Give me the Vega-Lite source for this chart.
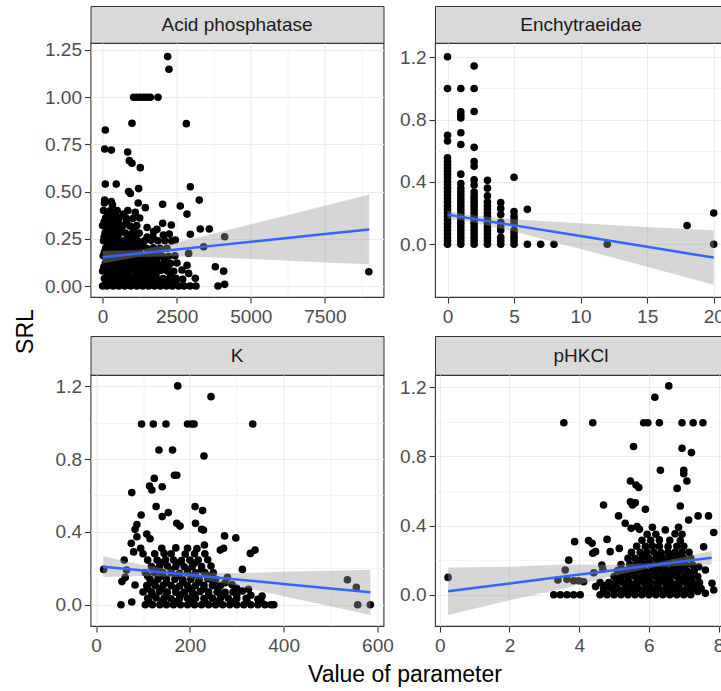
{
"$schema":"https://vega.github.io/schema/vega-lite/v6.json",
"padding":{"left":0,"top":5,"right":0,"bottom":0},
"background":"white",
"config":{
 "font":"Liberation Sans",
 "view":{"stroke":"#333333","strokeWidth":1.1,"fill":"white"},
 "axis":{"domain":false,"labelFont":"Liberation Sans","labelFontSize":19,"labelColor":"#4D4D4D","tickColor":"#333333","tickSize":6,"tickWidth":1.1,"gridColor":"#EBEBEB","labelFlush":false,"labelOverlap":false},
 "axisX":{"labelPadding":4,"minExtent":30,"maxExtent":30},
 "axisY":{"labelPadding":3},
 "text":{"font":"Liberation Sans"}
},
"datasets":{
 "acid_pts":[
  {"x":2194,"y":1.215},{"x":2239,"y":1.148},{"x":1046,"y":1.0},{"x":1159,"y":1.0},{"x":1271,"y":1.0},{"x":1384,"y":1.0},{"x":1496,"y":1.0},{"x":1609,"y":1.0},{"x":1868,"y":1.0},
  {"x":990,"y":0.862},{"x":2824,"y":0.86},{"x":90,"y":0.826},{"x":68,"y":0.726},{"x":293,"y":0.72},{"x":844,"y":0.71},{"x":900,"y":0.664},{"x":990,"y":0.65},{"x":1271,"y":0.627},
  {"x":90,"y":0.54},{"x":461,"y":0.54},{"x":877,"y":0.5},{"x":934,"y":0.49},{"x":1215,"y":0.516},{"x":2959,"y":0.526},{"x":3262,"y":0.455},{"x":68,"y":0.455},{"x":293,"y":0.447},
  {"x":1440,"y":0.415},{"x":2025,"y":0.433},{"x":2621,"y":0.424},{"x":2846,"y":0.381},{"x":3296,"y":0.302},{"x":3600,"y":0.302},{"x":4118,"y":0.261},{"x":2959,"y":0.274},
  {"x":3803,"y":0.102},{"x":4084,"y":0.079},{"x":3893,"y":0},{"x":4118,"y":0.009},{"x":3409,"y":0.208},{"x":8985,"y":0.076},
  {"x":2025,"y":0.332},{"x":1834,"y":0.3},{"x":1721,"y":0.288},{"x":2318,"y":0.323},{"x":2453,"y":0.244},{"x":2903,"y":0.173},{"x":2678,"y":0.085},{"x":2903,"y":0.067},{"x":3128,"y":0.041},{"x":2565,"y":0},
  {"x":0,"y":0},{"x":150,"y":0},{"x":350,"y":0},{"x":550,"y":0},{"x":750,"y":0},{"x":950,"y":0},{"x":1150,"y":0},{"x":1350,"y":0},{"x":1550,"y":0},{"x":1750,"y":0},{"x":1950,"y":0},{"x":2150,"y":0},{"x":2350,"y":0},{"x":2750,"y":0},{"x":2950,"y":0},{"x":3150,"y":0},
  {"x":60,"y":0.04},{"x":280,"y":0.042},{"x":500,"y":0.04},{"x":720,"y":0.038},{"x":940,"y":0.04},{"x":1160,"y":0.042},{"x":1380,"y":0.04},{"x":1600,"y":0.04},{"x":1820,"y":0.038},{"x":2040,"y":0.04},{"x":2260,"y":0.042},{"x":2480,"y":0.04},{"x":2700,"y":0.036},
  {"x":0,"y":0.08},{"x":200,"y":0.082},{"x":420,"y":0.08},{"x":640,"y":0.078},{"x":860,"y":0.08},{"x":1080,"y":0.083},{"x":1300,"y":0.08},{"x":1520,"y":0.079},{"x":1740,"y":0.08},{"x":1960,"y":0.082},{"x":2180,"y":0.08},{"x":2400,"y":0.078},{"x":2850,"y":0.11},
  {"x":90,"y":0.12},{"x":310,"y":0.12},{"x":530,"y":0.122},{"x":750,"y":0.12},{"x":970,"y":0.118},{"x":1190,"y":0.12},{"x":1410,"y":0.121},{"x":1630,"y":0.12},{"x":1850,"y":0.12},{"x":2070,"y":0.118},{"x":2290,"y":0.12},{"x":2510,"y":0.122},
  {"x":20,"y":0.16},{"x":240,"y":0.16},{"x":460,"y":0.162},{"x":680,"y":0.16},{"x":900,"y":0.158},{"x":1120,"y":0.16},{"x":1340,"y":0.16},{"x":1560,"y":0.162},{"x":1780,"y":0.16},{"x":2000,"y":0.16},{"x":2220,"y":0.158},{"x":2440,"y":0.16},
  {"x":100,"y":0.2},{"x":330,"y":0.2},{"x":560,"y":0.202},{"x":790,"y":0.2},{"x":1020,"y":0.198},{"x":1250,"y":0.2},{"x":1480,"y":0.2},{"x":1710,"y":0.202},{"x":1940,"y":0.2},{"x":2170,"y":0.2},
  {"x":30,"y":0.24},{"x":260,"y":0.24},{"x":490,"y":0.242},{"x":720,"y":0.24},{"x":950,"y":0.238},{"x":1180,"y":0.24},{"x":1410,"y":0.24},{"x":1640,"y":0.242},{"x":1870,"y":0.24},{"x":2100,"y":0.24},{"x":2330,"y":0.238},
  {"x":80,"y":0.28},{"x":310,"y":0.28},{"x":540,"y":0.282},{"x":770,"y":0.28},{"x":1000,"y":0.278},{"x":1230,"y":0.28},{"x":1700,"y":0.26},{"x":2050,"y":0.27},{"x":2250,"y":0.275},
  {"x":0,"y":0.32},{"x":230,"y":0.32},{"x":460,"y":0.322},{"x":690,"y":0.32},{"x":920,"y":0.318},{"x":1150,"y":0.32},{"x":1500,"y":0.31},
  {"x":100,"y":0.36},{"x":330,"y":0.36},{"x":560,"y":0.362},{"x":790,"y":0.36},{"x":1020,"y":0.358},{"x":1250,"y":0.36},
  {"x":30,"y":0.4},{"x":260,"y":0.4},{"x":490,"y":0.4},{"x":850,"y":0.4},{"x":1100,"y":0.39},
  {"x":60,"y":0.44},{"x":330,"y":0.43},{"x":1200,"y":0.44},
  {"x":110,"y":0.02},{"x":330,"y":0.021},{"x":560,"y":0.019},{"x":800,"y":0.02},{"x":1040,"y":0.022},{"x":1270,"y":0.02},{"x":1500,"y":0.018},{"x":1740,"y":0.02},{"x":1980,"y":0.021},{"x":2220,"y":0.02},{"x":2460,"y":0.019},
  {"x":170,"y":0.06},{"x":400,"y":0.061},{"x":620,"y":0.06},{"x":850,"y":0.059},{"x":1090,"y":0.06},{"x":1330,"y":0.062},{"x":1560,"y":0.06},{"x":1800,"y":0.06},{"x":2300,"y":0.058},
  {"x":40,"y":0.1},{"x":260,"y":0.1},{"x":500,"y":0.102},{"x":740,"y":0.1},{"x":980,"y":0.098},{"x":1220,"y":0.1},{"x":1460,"y":0.1},{"x":1700,"y":0.101},{"x":1950,"y":0.1},{"x":2200,"y":0.099},
  {"x":140,"y":0.14},{"x":380,"y":0.14},{"x":620,"y":0.141},{"x":860,"y":0.14},{"x":1100,"y":0.139},{"x":1340,"y":0.14},{"x":1580,"y":0.14},{"x":1820,"y":0.142},{"x":2080,"y":0.14},
  {"x":60,"y":0.18},{"x":290,"y":0.18},{"x":520,"y":0.181},{"x":760,"y":0.18},{"x":1000,"y":0.179},{"x":1240,"y":0.18},{"x":1600,"y":0.18},{"x":1900,"y":0.18},
  {"x":170,"y":0.22},{"x":400,"y":0.22},{"x":640,"y":0.221},{"x":880,"y":0.22},{"x":1120,"y":0.219},{"x":1350,"y":0.22},
  {"x":50,"y":0.26},{"x":280,"y":0.26},{"x":520,"y":0.261},{"x":880,"y":0.26},{"x":1100,"y":0.259},{"x":1500,"y":0.26},
  {"x":150,"y":0.3},{"x":380,"y":0.3},{"x":620,"y":0.301},{"x":1050,"y":0.3},
  {"x":50,"y":0.34},{"x":280,"y":0.34},{"x":520,"y":0.341},{"x":800,"y":0.34},
  {"x":180,"y":0.38},{"x":420,"y":0.38},{"x":700,"y":0.381}
 ],
 "acid_fit":[
  {"x":0,"fit":0.153,"lo":0.12,"hi":0.187},{"x":1200,"fit":0.172,"lo":0.154,"hi":0.19},{"x":2500,"fit":0.194,"lo":0.158,"hi":0.23},{"x":4000,"fit":0.218,"lo":0.15,"hi":0.287},{"x":6000,"fit":0.251,"lo":0.136,"hi":0.366},{"x":7500,"fit":0.275,"lo":0.125,"hi":0.425},{"x":9000,"fit":0.3,"lo":0.115,"hi":0.485}
 ],
 "ench_pts":[
  {"x":0,"y":0},{"x":0,"y":0.045},{"x":0,"y":0.09},{"x":0,"y":0.135},{"x":0,"y":0.18},{"x":0,"y":0.225},{"x":0,"y":0.27},{"x":0,"y":0.315},{"x":0,"y":0.36},{"x":0,"y":0.405},{"x":0,"y":0.45},{"x":0,"y":0.49},{"x":0,"y":0.53},{"x":0,"y":0.555},{"x":0,"y":0.663},{"x":0,"y":0.7},{"x":0,"y":1.0},{"x":0,"y":1.204},
  {"x":0,"y":0.022},{"x":0,"y":0.067},{"x":0,"y":0.112},{"x":0,"y":0.157},{"x":0,"y":0.202},{"x":0,"y":0.247},{"x":0,"y":0.292},{"x":0,"y":0.337},{"x":0,"y":0.382},{"x":0,"y":0.427},{"x":0,"y":0.47},{"x":0,"y":0.51},
  {"x":1,"y":0},{"x":1,"y":0.045},{"x":1,"y":0.09},{"x":1,"y":0.135},{"x":1,"y":0.18},{"x":1,"y":0.225},{"x":1,"y":0.27},{"x":1,"y":0.315},{"x":1,"y":0.36},{"x":1,"y":0.39},{"x":1,"y":0.45},{"x":1,"y":0.64},{"x":1,"y":0.716},{"x":1,"y":0.81},{"x":1,"y":0.83},{"x":1,"y":0.85},{"x":1,"y":1.0},
  {"x":1,"y":0.022},{"x":1,"y":0.067},{"x":1,"y":0.112},{"x":1,"y":0.157},{"x":1,"y":0.202},{"x":1,"y":0.247},{"x":1,"y":0.292},{"x":1,"y":0.337},
  {"x":2,"y":0},{"x":2,"y":0.045},{"x":2,"y":0.09},{"x":2,"y":0.135},{"x":2,"y":0.18},{"x":2,"y":0.225},{"x":2,"y":0.27},{"x":2,"y":0.31},{"x":2,"y":0.335},{"x":2,"y":0.38},{"x":2,"y":0.413},{"x":2,"y":0.5},{"x":2,"y":0.53},{"x":2,"y":0.622},{"x":2,"y":0.852},{"x":2,"y":1.0},{"x":2,"y":1.144},
  {"x":2,"y":0.022},{"x":2,"y":0.067},{"x":2,"y":0.112},{"x":2,"y":0.157},{"x":2,"y":0.202},{"x":2,"y":0.247},{"x":2,"y":0.29},
  {"x":3,"y":0},{"x":3,"y":0.045},{"x":3,"y":0.09},{"x":3,"y":0.135},{"x":3,"y":0.18},{"x":3,"y":0.225},{"x":3,"y":0.27},{"x":3,"y":0.31},{"x":3,"y":0.36},{"x":3,"y":0.41},
  {"x":3,"y":0.022},{"x":3,"y":0.067},{"x":3,"y":0.112},{"x":3,"y":0.157},{"x":3,"y":0.202},{"x":3,"y":0.247},
  {"x":4,"y":0},{"x":4,"y":0.045},{"x":4,"y":0.09},{"x":4,"y":0.14},{"x":4,"y":0.19},{"x":4,"y":0.23},{"x":4,"y":0.268},{"x":4,"y":0.022},{"x":4,"y":0.112},
  {"x":5,"y":0},{"x":5,"y":0.045},{"x":5,"y":0.09},{"x":5,"y":0.135},{"x":5,"y":0.18},{"x":5,"y":0.21},{"x":5,"y":0.43},{"x":5,"y":0.022},{"x":5,"y":0.067},{"x":5,"y":0.157},
  {"x":6,"y":0},{"x":6,"y":0.224},{"x":7,"y":0},{"x":8,"y":0},{"x":12,"y":0},{"x":18,"y":0.12},{"x":20,"y":0.2},{"x":20,"y":0}
 ],
 "ench_fit":[
  {"x":0,"fit":0.19,"lo":0.165,"hi":0.215},{"x":1.5,"fit":0.169,"lo":0.149,"hi":0.189},{"x":5,"fit":0.121,"lo":0.082,"hi":0.16},{"x":10,"fit":0.052,"lo":-0.03,"hi":0.134},{"x":15,"fit":-0.017,"lo":-0.145,"hi":0.111},{"x":20,"fit":-0.086,"lo":-0.261,"hi":0.089}
 ],
 "k_pts":[
  {"x":174,"y":1.202},{"x":245,"y":1.143},{"x":97,"y":0.993},{"x":122,"y":0.993},{"x":149,"y":0.993},{"x":195,"y":0.993},{"x":204,"y":0.993},{"x":209,"y":0.993},{"x":334,"y":0.993},
  {"x":134,"y":0.85},{"x":163,"y":0.85},{"x":230,"y":0.817},{"x":167,"y":0.711},{"x":172,"y":0.711},{"x":124,"y":0.694},{"x":114,"y":0.652},{"x":119,"y":0.63},{"x":141,"y":0.648},{"x":76,"y":0.616},
  {"x":128,"y":0.539},{"x":96,"y":0.493},{"x":141,"y":0.484},{"x":154,"y":0.506},{"x":211,"y":0.539},{"x":227,"y":0.517},{"x":172,"y":0.447},{"x":179,"y":0.432},{"x":212,"y":0.447},{"x":225,"y":0.414},{"x":229,"y":0.41},
  {"x":87,"y":0.44},{"x":83,"y":0.414},{"x":87,"y":0.373},{"x":108,"y":0.388},{"x":115,"y":0.362},{"x":274,"y":0.378},{"x":298,"y":0.367},{"x":231,"y":0.328},{"x":265,"y":0.3},{"x":272,"y":0.31},{"x":329,"y":0.282},{"x":339,"y":0.3},
  {"x":312,"y":0.194},{"x":16,"y":0.194},{"x":55,"y":0.127},{"x":62,"y":0.15},{"x":53,"y":0},{"x":76,"y":0.015},{"x":354,"y":0.048},{"x":373,"y":0},{"x":379,"y":0},
  {"x":536,"y":0.137},{"x":555,"y":0.095},{"x":558,"y":0},{"x":585,"y":0},{"x":60,"y":0.245},{"x":65,"y":0.19},{"x":80,"y":0.29},{"x":75,"y":0.337},{"x":83,"y":0.108},
  {"x":105,"y":0},{"x":120,"y":0},{"x":136,"y":0},{"x":150,"y":0},{"x":165,"y":0},{"x":180,"y":0},{"x":195,"y":0},{"x":210,"y":0},{"x":225,"y":0},{"x":240,"y":0},{"x":255,"y":0},{"x":270,"y":0},{"x":285,"y":0},{"x":300,"y":0},{"x":315,"y":0},{"x":330,"y":0},{"x":345,"y":0},{"x":360,"y":0},
  {"x":110,"y":0.035},{"x":128,"y":0.037},{"x":145,"y":0.035},{"x":160,"y":0.033},{"x":178,"y":0.035},{"x":195,"y":0.036},{"x":212,"y":0.035},{"x":230,"y":0.034},{"x":248,"y":0.035},{"x":265,"y":0.036},{"x":282,"y":0.035},{"x":300,"y":0.034},{"x":320,"y":0.035},{"x":345,"y":0.03},
  {"x":100,"y":0.07},{"x":118,"y":0.07},{"x":135,"y":0.072},{"x":152,"y":0.07},{"x":170,"y":0.068},{"x":188,"y":0.07},{"x":205,"y":0.07},{"x":222,"y":0.072},{"x":240,"y":0.07},{"x":258,"y":0.07},{"x":275,"y":0.068},{"x":292,"y":0.07},{"x":312,"y":0.075},
  {"x":108,"y":0.105},{"x":126,"y":0.105},{"x":143,"y":0.107},{"x":160,"y":0.105},{"x":178,"y":0.103},{"x":195,"y":0.105},{"x":212,"y":0.105},{"x":230,"y":0.107},{"x":248,"y":0.105},{"x":265,"y":0.105},{"x":290,"y":0.11},
  {"x":115,"y":0.14},{"x":132,"y":0.14},{"x":150,"y":0.142},{"x":168,"y":0.14},{"x":185,"y":0.138},{"x":202,"y":0.14},{"x":220,"y":0.14},{"x":238,"y":0.142},{"x":255,"y":0.14},{"x":280,"y":0.15},
  {"x":105,"y":0.175},{"x":125,"y":0.175},{"x":142,"y":0.177},{"x":160,"y":0.175},{"x":178,"y":0.173},{"x":195,"y":0.175},{"x":212,"y":0.175},{"x":232,"y":0.177},{"x":250,"y":0.175},
  {"x":118,"y":0.21},{"x":135,"y":0.21},{"x":152,"y":0.212},{"x":170,"y":0.21},{"x":188,"y":0.208},{"x":205,"y":0.21},{"x":225,"y":0.21},{"x":245,"y":0.212},
  {"x":110,"y":0.245},{"x":130,"y":0.245},{"x":148,"y":0.247},{"x":165,"y":0.245},{"x":182,"y":0.243},{"x":200,"y":0.245},{"x":218,"y":0.245},{"x":238,"y":0.247},
  {"x":100,"y":0.28},{"x":125,"y":0.28},{"x":145,"y":0.282},{"x":160,"y":0.28},{"x":190,"y":0.278},{"x":210,"y":0.28},{"x":232,"y":0.28},
  {"x":95,"y":0.31},{"x":140,"y":0.31},{"x":170,"y":0.312},{"x":195,"y":0.31},{"x":215,"y":0.308},
  {"x":112,"y":0.018},{"x":142,"y":0.018},{"x":172,"y":0.017},{"x":202,"y":0.018},{"x":232,"y":0.019},{"x":262,"y":0.018},{"x":292,"y":0.017},{"x":322,"y":0.018},{"x":352,"y":0.018},
  {"x":120,"y":0.053},{"x":150,"y":0.053},{"x":180,"y":0.054},{"x":210,"y":0.053},{"x":240,"y":0.052},{"x":270,"y":0.053},{"x":300,"y":0.053},{"x":330,"y":0.052},
  {"x":110,"y":0.088},{"x":140,"y":0.088},{"x":170,"y":0.089},{"x":200,"y":0.088},{"x":230,"y":0.087},{"x":260,"y":0.088},{"x":300,"y":0.09},{"x":325,"y":0.085},
  {"x":118,"y":0.123},{"x":150,"y":0.123},{"x":185,"y":0.124},{"x":218,"y":0.123},{"x":250,"y":0.122},{"x":275,"y":0.12},
  {"x":110,"y":0.158},{"x":140,"y":0.158},{"x":172,"y":0.159},{"x":205,"y":0.158},{"x":240,"y":0.157},
  {"x":128,"y":0.19},{"x":160,"y":0.19},{"x":195,"y":0.191},{"x":225,"y":0.19},
  {"x":140,"y":0.23},{"x":175,"y":0.23},{"x":210,"y":0.229}
 ],
 "k_fit":[
  {"x":15,"fit":0.209,"lo":0.152,"hi":0.266},{"x":100,"fit":0.188,"lo":0.158,"hi":0.218},{"x":190,"fit":0.166,"lo":0.151,"hi":0.181},{"x":300,"fit":0.139,"lo":0.105,"hi":0.173},{"x":400,"fit":0.114,"lo":0.047,"hi":0.181},{"x":500,"fit":0.089,"lo":-0.009,"hi":0.187},{"x":585,"fit":0.068,"lo":-0.056,"hi":0.192}
 ],
 "ph_pts":[
  {"x":6.57,"y":1.208},{"x":6.17,"y":1.142},{"x":3.56,"y":0.995},{"x":4.39,"y":0.995},{"x":5.85,"y":0.995},{"x":5.97,"y":0.995},{"x":6.3,"y":0.995},{"x":6.95,"y":0.995},{"x":7.27,"y":0.995},{"x":7.55,"y":0.995},
  {"x":5.56,"y":0.857},{"x":6.95,"y":0.847},{"x":7.22,"y":0.822},{"x":6.33,"y":0.72},{"x":7.0,"y":0.72},{"x":7.0,"y":0.7},{"x":7.09,"y":0.658},{"x":5.47,"y":0.658},{"x":5.63,"y":0.634},{"x":5.71,"y":0.62},{"x":6.81,"y":0.615},
  {"x":5.47,"y":0.538},{"x":5.53,"y":0.519},{"x":5.61,"y":0.532},{"x":4.7,"y":0.519},{"x":5.9,"y":0.494},{"x":6.9,"y":0.513},{"x":5.13,"y":0.456},{"x":7.14,"y":0.432},{"x":7.41,"y":0.456},{"x":7.71,"y":0.456},{"x":7.86,"y":0.36},
  {"x":6.47,"y":0.375},{"x":5.32,"y":0.413},{"x":5.49,"y":0.384},{"x":5.66,"y":0.394},{"x":5.73,"y":0.378},{"x":3.87,"y":0.307},{"x":4.27,"y":0.313},{"x":4.37,"y":0.297},{"x":4.47,"y":0.249},{"x":4.39,"y":0.24},{"x":4.8,"y":0.32},{"x":4.89,"y":0.249},{"x":5.15,"y":0.268},
  {"x":3.7,"y":0.2},{"x":3.6,"y":0.143},{"x":3.65,"y":0.089},{"x":3.84,"y":0.081},{"x":3.99,"y":0.081},{"x":4.13,"y":0.075},{"x":3.39,"y":0.085},{"x":3.27,"y":0},{"x":3.46,"y":0},{"x":3.65,"y":0},{"x":3.84,"y":0},{"x":4.03,"y":0},
  {"x":4.65,"y":0.172},{"x":4.68,"y":0.147},{"x":4.42,"y":0.127},{"x":4.47,"y":0.047},{"x":7.57,"y":0.277},{"x":7.62,"y":0.143},{"x":7.43,"y":0.162},{"x":7.81,"y":0.066},{"x":7.86,"y":0.027},{"x":7.62,"y":0.008},{"x":0.24,"y":0.1},
  {"x":4.6,"y":0},{"x":4.8,"y":0},{"x":5.0,"y":0},{"x":5.2,"y":0},{"x":5.4,"y":0},{"x":5.6,"y":0},{"x":5.8,"y":0},{"x":6.0,"y":0},{"x":6.2,"y":0},{"x":6.4,"y":0},{"x":6.6,"y":0},{"x":6.8,"y":0},{"x":7.0,"y":0},{"x":7.2,"y":0},
  {"x":4.7,"y":0.035},{"x":4.9,"y":0.037},{"x":5.1,"y":0.035},{"x":5.3,"y":0.033},{"x":5.5,"y":0.035},{"x":5.7,"y":0.036},{"x":5.9,"y":0.035},{"x":6.1,"y":0.034},{"x":6.3,"y":0.035},{"x":6.5,"y":0.036},{"x":6.7,"y":0.035},{"x":6.9,"y":0.034},{"x":7.1,"y":0.035},{"x":7.3,"y":0.036},{"x":7.5,"y":0.035},
  {"x":4.6,"y":0.07},{"x":4.85,"y":0.07},{"x":5.05,"y":0.072},{"x":5.25,"y":0.07},{"x":5.45,"y":0.068},{"x":5.65,"y":0.07},{"x":5.85,"y":0.07},{"x":6.05,"y":0.072},{"x":6.25,"y":0.07},{"x":6.45,"y":0.07},{"x":6.65,"y":0.068},{"x":6.85,"y":0.07},{"x":7.05,"y":0.07},{"x":7.25,"y":0.072},{"x":7.45,"y":0.07},
  {"x":5.0,"y":0.105},{"x":5.2,"y":0.105},{"x":5.4,"y":0.107},{"x":5.6,"y":0.105},{"x":5.8,"y":0.103},{"x":6.0,"y":0.105},{"x":6.2,"y":0.105},{"x":6.4,"y":0.107},{"x":6.6,"y":0.105},{"x":6.8,"y":0.105},{"x":7.0,"y":0.103},{"x":7.2,"y":0.105},{"x":7.4,"y":0.105},
  {"x":5.1,"y":0.14},{"x":5.3,"y":0.14},{"x":5.5,"y":0.142},{"x":5.7,"y":0.14},{"x":5.9,"y":0.138},{"x":6.1,"y":0.14},{"x":6.3,"y":0.14},{"x":6.5,"y":0.142},{"x":6.7,"y":0.14},{"x":6.9,"y":0.14},{"x":7.1,"y":0.138},{"x":7.3,"y":0.14},
  {"x":5.2,"y":0.175},{"x":5.45,"y":0.175},{"x":5.65,"y":0.177},{"x":5.85,"y":0.175},{"x":6.05,"y":0.173},{"x":6.25,"y":0.175},{"x":6.45,"y":0.175},{"x":6.65,"y":0.177},{"x":6.85,"y":0.175},{"x":7.05,"y":0.175},{"x":7.25,"y":0.173},
  {"x":5.4,"y":0.21},{"x":5.6,"y":0.21},{"x":5.8,"y":0.212},{"x":6.0,"y":0.21},{"x":6.2,"y":0.208},{"x":6.4,"y":0.21},{"x":6.6,"y":0.21},{"x":6.8,"y":0.212},{"x":7.0,"y":0.21},{"x":7.2,"y":0.21},
  {"x":5.5,"y":0.245},{"x":5.75,"y":0.245},{"x":5.95,"y":0.247},{"x":6.15,"y":0.245},{"x":6.35,"y":0.243},{"x":6.55,"y":0.245},{"x":6.75,"y":0.245},{"x":6.95,"y":0.247},{"x":7.15,"y":0.245},
  {"x":5.65,"y":0.28},{"x":5.9,"y":0.28},{"x":6.1,"y":0.282},{"x":6.3,"y":0.28},{"x":6.55,"y":0.278},{"x":6.8,"y":0.28},{"x":7.0,"y":0.28},
  {"x":5.8,"y":0.315},{"x":6.05,"y":0.315},{"x":6.3,"y":0.317},{"x":6.6,"y":0.315},{"x":6.9,"y":0.313},
  {"x":5.95,"y":0.35},{"x":6.2,"y":0.35},{"x":6.75,"y":0.352},{"x":6.95,"y":0.35},{"x":6.1,"y":0.39},{"x":6.85,"y":0.39},
  {"x":4.7,"y":0.018},{"x":5.0,"y":0.018},{"x":5.3,"y":0.017},{"x":5.6,"y":0.018},{"x":5.9,"y":0.019},{"x":6.2,"y":0.018},{"x":6.5,"y":0.017},{"x":6.8,"y":0.018},{"x":7.1,"y":0.018},{"x":7.4,"y":0.019},
  {"x":4.75,"y":0.053},{"x":5.05,"y":0.053},{"x":5.35,"y":0.054},{"x":5.65,"y":0.053},{"x":5.95,"y":0.052},{"x":6.25,"y":0.053},{"x":6.55,"y":0.053},{"x":6.85,"y":0.054},{"x":7.15,"y":0.053},{"x":7.4,"y":0.052},
  {"x":5.1,"y":0.088},{"x":5.4,"y":0.088},{"x":5.7,"y":0.089},{"x":6.0,"y":0.088},{"x":6.3,"y":0.087},{"x":6.6,"y":0.088},{"x":6.9,"y":0.088},{"x":7.2,"y":0.089},
  {"x":5.3,"y":0.123},{"x":5.6,"y":0.123},{"x":5.9,"y":0.124},{"x":6.2,"y":0.123},{"x":6.5,"y":0.122},{"x":6.8,"y":0.123},{"x":7.1,"y":0.123},
  {"x":5.5,"y":0.158},{"x":5.8,"y":0.158},{"x":6.1,"y":0.159},{"x":6.4,"y":0.158},{"x":6.7,"y":0.157},{"x":7.0,"y":0.158},
  {"x":5.7,"y":0.19},{"x":6.0,"y":0.19},{"x":6.3,"y":0.191},{"x":6.6,"y":0.19},{"x":6.9,"y":0.19},
  {"x":5.9,"y":0.23},{"x":6.25,"y":0.23},{"x":6.6,"y":0.229},{"x":6.9,"y":0.23}
 ],
 "ph_fit":[
  {"x":0.24,"fit":0.02,"lo":-0.117,"hi":0.157},{"x":2,"fit":0.065,"lo":-0.032,"hi":0.162},{"x":3.5,"fit":0.104,"lo":0.033,"hi":0.175},{"x":5,"fit":0.142,"lo":0.111,"hi":0.173},{"x":6.2,"fit":0.173,"lo":0.161,"hi":0.185},{"x":7.8,"fit":0.214,"lo":0.175,"hi":0.253}
 ]
},
"spacing":7,
"vconcat":[
 {"spacing":-10.5,"hconcat":[
  {"width":52,"height":651,"data":{"values":[{"t":"SRL"}]},"mark":{"type":"text","angle":270,"fontSize":23,"color":"#000000","baseline":"middle","align":"center"},"encoding":{"text":{"field":"t","type":"nominal"}},"view":{"stroke":null,"fill":null}},
  {"spacing":7,"vconcat":[
   {"bounds":"flush","spacing":0,"vconcat":[
    {"width":293,"height":37,"data":{"values":[{"label":"Acid phosphatase"}]},"mark":{"type":"text","fontSize":19,"color":"#1A1A1A"},"encoding":{"text":{"field":"label","type":"nominal"}},"view":{"fill":"#D9D9D9","stroke":"#333333"}},
    {"width":293,"height":254,"layer":[
     {"data":{"name":"acid_pts"},"mark":{"type":"circle","color":"#000000","opacity":1,"size":58},
      "encoding":{
       "x":{"field":"x","type":"quantitative","title":null,"scale":{"domain":[-410,9480],"nice":false,"zero":false},
        "axis":{"values":[0,1250,2500,3750,5000,6250,7500,8750],"format":"d","labelExpr":"indexof([0,2500,5000,7500],datum.value)>=0?datum.label:''","tickOpacity":{"condition":{"test":"indexof([0,2500,5000,7500],datum.value)>=0","value":1},"value":0},"gridWidth":{"condition":{"test":"indexof([0,2500,5000,7500],datum.value)>=0","value":1.1},"value":0.55}}},
       "y":{"field":"y","type":"quantitative","title":null,"scale":{"domain":[-0.058,1.287],"nice":false,"zero":false},
        "axis":{"minExtent":48,"maxExtent":48,"values":[0,0.125,0.25,0.375,0.5,0.625,0.75,0.875,1,1.125,1.25],"format":".2f","labelExpr":"indexof([0,0.25,0.5,0.75,1,1.25],datum.value)>=0?datum.label:''","tickOpacity":{"condition":{"test":"indexof([0,0.25,0.5,0.75,1,1.25],datum.value)>=0","value":1},"value":0},"gridWidth":{"condition":{"test":"indexof([0,0.25,0.5,0.75,1,1.25],datum.value)>=0","value":1.1},"value":0.55}}}
      }},
     {"data":{"name":"acid_fit"},"mark":{"type":"area","color":"#999999","opacity":0.4},"encoding":{"x":{"field":"x","type":"quantitative","title":null},"y":{"field":"lo","type":"quantitative","title":null},"y2":{"field":"hi"}}},
     {"data":{"name":"acid_fit"},"mark":{"type":"line","color":"#3366FF","strokeWidth":2.5},"encoding":{"x":{"field":"x","type":"quantitative","title":null},"y":{"field":"fit","type":"quantitative","title":null}}}
    ]}
   ]},
   {"bounds":"flush","spacing":0,"vconcat":[
    {"width":293,"height":39,"data":{"values":[{"label":"K"}]},"mark":{"type":"text","fontSize":19,"color":"#1A1A1A"},"encoding":{"text":{"field":"label","type":"nominal"}},"view":{"fill":"#D9D9D9","stroke":"#333333"}},
    {"width":293,"height":251,"layer":[
     {"data":{"name":"k_pts"},"mark":{"type":"circle","color":"#000000","opacity":1,"size":58},
      "encoding":{
       "x":{"field":"x","type":"quantitative","title":null,"scale":{"domain":[-12,613],"nice":false,"zero":false},
        "axis":{"values":[0,100,200,300,400,500,600],"format":"d","labelExpr":"indexof([0,200,400,600],datum.value)>=0?datum.label:''","tickOpacity":{"condition":{"test":"indexof([0,200,400,600],datum.value)>=0","value":1},"value":0},"gridWidth":{"condition":{"test":"indexof([0,200,400,600],datum.value)>=0","value":1.1},"value":0.55}}},
       "y":{"field":"y","type":"quantitative","title":null,"scale":{"domain":[-0.117,1.262],"nice":false,"zero":false},
        "axis":{"minExtent":48,"maxExtent":48,"values":[0,0.2,0.4,0.6,0.8,1,1.2],"format":".1f","labelExpr":"indexof([0,0.4,0.8,1.2],datum.value)>=0?datum.label:''","tickOpacity":{"condition":{"test":"indexof([0,0.4,0.8,1.2],datum.value)>=0","value":1},"value":0},"gridWidth":{"condition":{"test":"indexof([0,0.4,0.8,1.2],datum.value)>=0","value":1.1},"value":0.55}}}
      }},
     {"data":{"name":"k_fit"},"mark":{"type":"area","color":"#999999","opacity":0.4},"encoding":{"x":{"field":"x","type":"quantitative","title":null},"y":{"field":"lo","type":"quantitative","title":null},"y2":{"field":"hi"}}},
     {"data":{"name":"k_fit"},"mark":{"type":"line","color":"#3366FF","strokeWidth":2.5},"encoding":{"x":{"field":"x","type":"quantitative","title":null},"y":{"field":"fit","type":"quantitative","title":null}}}
    ]}
   ]}
  ]},
  {"spacing":7,"vconcat":[
   {"bounds":"flush","spacing":0,"vconcat":[
    {"width":292,"height":37,"data":{"values":[{"label":"Enchytraeidae"}]},"mark":{"type":"text","fontSize":19,"color":"#1A1A1A"},"encoding":{"text":{"field":"label","type":"nominal"}},"view":{"fill":"#D9D9D9","stroke":"#333333"}},
    {"width":292,"height":254,"layer":[
     {"data":{"name":"ench_pts"},"mark":{"type":"circle","color":"#000000","opacity":1,"size":58},
      "encoding":{
       "x":{"field":"x","type":"quantitative","title":null,"scale":{"domain":[-0.94,21.0],"nice":false,"zero":false},
        "axis":{"values":[0,2.5,5,7.5,10,12.5,15,17.5,20],"format":"d","labelExpr":"indexof([0,5,10,15,20],datum.value)>=0?datum.label:''","tickOpacity":{"condition":{"test":"indexof([0,5,10,15,20],datum.value)>=0","value":1},"value":0},"gridWidth":{"condition":{"test":"indexof([0,5,10,15,20],datum.value)>=0","value":1.1},"value":0.55}}},
       "y":{"field":"y","type":"quantitative","title":null,"scale":{"domain":[-0.339,1.292],"nice":false,"zero":false},
        "axis":{"minExtent":49.5,"maxExtent":49.5,"values":[0,0.2,0.4,0.6,0.8,1,1.2],"format":".1f","labelExpr":"indexof([0,0.4,0.8,1.2],datum.value)>=0?datum.label:''","tickOpacity":{"condition":{"test":"indexof([0,0.4,0.8,1.2],datum.value)>=0","value":1},"value":0},"gridWidth":{"condition":{"test":"indexof([0,0.4,0.8,1.2],datum.value)>=0","value":1.1},"value":0.55}}}
      }},
     {"data":{"name":"ench_fit"},"mark":{"type":"area","color":"#999999","opacity":0.4},"encoding":{"x":{"field":"x","type":"quantitative","title":null},"y":{"field":"lo","type":"quantitative","title":null},"y2":{"field":"hi"}}},
     {"data":{"name":"ench_fit"},"mark":{"type":"line","color":"#3366FF","strokeWidth":2.5},"encoding":{"x":{"field":"x","type":"quantitative","title":null},"y":{"field":"fit","type":"quantitative","title":null}}}
    ]}
   ]},
   {"bounds":"flush","spacing":0,"vconcat":[
    {"width":292,"height":39,"data":{"values":[{"label":"pHKCl"}]},"mark":{"type":"text","fontSize":19,"color":"#1A1A1A"},"encoding":{"text":{"field":"label","type":"nominal"}},"view":{"fill":"#D9D9D9","stroke":"#333333"}},
    {"width":292,"height":251,"layer":[
     {"data":{"name":"ph_pts"},"mark":{"type":"circle","color":"#000000","opacity":1,"size":58},
      "encoding":{
       "x":{"field":"x","type":"quantitative","title":null,"scale":{"domain":[-0.135,8.24],"nice":false,"zero":false},
        "axis":{"values":[0,1,2,3,4,5,6,7,8],"format":"d","labelExpr":"indexof([0,2,4,6,8],datum.value)>=0?datum.label:''","tickOpacity":{"condition":{"test":"indexof([0,2,4,6,8],datum.value)>=0","value":1},"value":0},"gridWidth":{"condition":{"test":"indexof([0,2,4,6,8],datum.value)>=0","value":1.1},"value":0.55}}},
       "y":{"field":"y","type":"quantitative","title":null,"scale":{"domain":[-0.181,1.271],"nice":false,"zero":false},
        "axis":{"minExtent":49.5,"maxExtent":49.5,"values":[0,0.2,0.4,0.6,0.8,1,1.2],"format":".1f","labelExpr":"indexof([0,0.4,0.8,1.2],datum.value)>=0?datum.label:''","tickOpacity":{"condition":{"test":"indexof([0,0.4,0.8,1.2],datum.value)>=0","value":1},"value":0},"gridWidth":{"condition":{"test":"indexof([0,0.4,0.8,1.2],datum.value)>=0","value":1.1},"value":0.55}}}
      }},
     {"data":{"name":"ph_fit"},"mark":{"type":"area","color":"#999999","opacity":0.4},"encoding":{"x":{"field":"x","type":"quantitative","title":null},"y":{"field":"lo","type":"quantitative","title":null},"y2":{"field":"hi"}}},
     {"data":{"name":"ph_fit"},"mark":{"type":"line","color":"#3366FF","strokeWidth":2.5},"encoding":{"x":{"field":"x","type":"quantitative","title":null},"y":{"field":"fit","type":"quantitative","title":null}}}
    ]}
   ]}
  ]}
 ]},
 {"spacing":60,"hconcat":[
  {"width":30,"height":18,"data":{"values":[]},"mark":{"type":"point","opacity":0},"encoding":{},"view":{"stroke":null,"fill":null}},
  {"width":630,"height":18,"data":{"values":[{"t":"Value of parameter"}]},"mark":{"type":"text","fontSize":23,"color":"#000000"},"encoding":{"text":{"field":"t","type":"nominal"}},"view":{"stroke":null,"fill":null}}
 ]}
]
}
